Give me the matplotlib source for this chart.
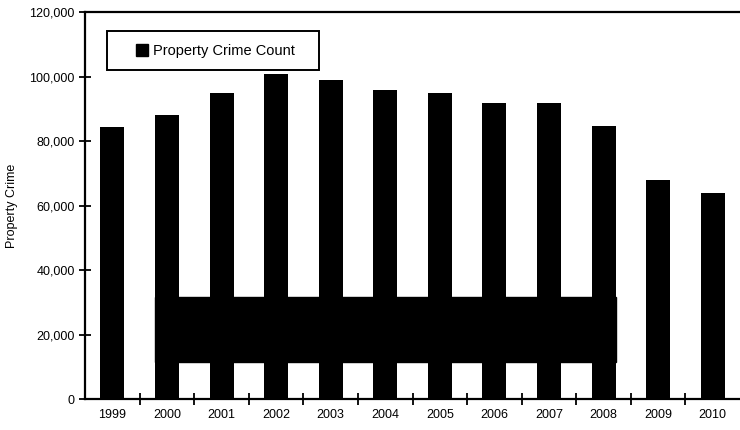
import matplotlib
matplotlib.use("Agg")
import matplotlib.pyplot as plt
from matplotlib.patches import Rectangle
from matplotlib.lines import Line2D
from matplotlib.ticker import FuncFormatter, FixedLocator

plt.rcParams["font.family"] = ["Liberation Sans", "DejaVu Sans"]

# data
years = ["1999", "2000", "2001", "2002", "2003", "2004",
         "2005", "2006", "2007", "2008", "2009", "2010"]
property_crime = [84500, 88000, 95000, 100900, 99000, 95800,
                  94900, 91800, 91800, 84700, 67900, 63900]

# redacted text box lying across the bars
box_years = ("2000", "2008")
box_range = (11600, 31500)

fig = plt.figure(figsize=(7.4, 4.3), dpi=100)
ax = fig.add_axes([0.115, 0.072, 0.885, 0.900])

x = list(range(len(years)))
bar_w = 0.44
ax.bar(x, property_crime, width=bar_w, color="black", zorder=2)

# black box over the middle of the chart
i0 = years.index(box_years[0])
i1 = years.index(box_years[1])
ax.add_patch(Rectangle((i0 - bar_w / 2, box_range[0]),
                       (i1 - i0) + bar_w, box_range[1] - box_range[0],
                       color="black", zorder=3))

ax.set_xlim(-0.5, len(years) - 0.5)
ax.set_ylim(0, 120000)
ax.set_yticks(range(0, 120001, 20000))
ax.yaxis.set_major_formatter(FuncFormatter(lambda v, p: f"{int(v):,}"))

# category labels centred, ticks on the boundaries
ax.set_xticks(x)
ax.set_xticklabels(years)
ax.tick_params(axis="x", length=0, pad=7, labelsize=9)
ax.xaxis.set_minor_locator(FixedLocator([i + 0.5 for i in x[:-1]]))
ax.tick_params(axis="x", which="minor", direction="inout", length=8, width=1.3)
ax.tick_params(axis="y", direction="inout", length=8, width=1.3, labelsize=9)

for s in ["left", "bottom", "top"]:
    ax.spines[s].set_linewidth(1.6)
ax.spines["right"].set_visible(False)

ax.set_ylabel("Property Crime", fontsize=9, labelpad=8)

# legend with a square marker, padded like the original box
handle = Line2D([], [], marker="s", color="black", linestyle="none", markersize=8)
leg = ax.legend([handle], ["Property Crime Count   "], loc="upper left",
                bbox_to_anchor=(0.033, 0.95), fontsize=10.5,
                frameon=True, fancybox=False, edgecolor="black", framealpha=1,
                handlelength=3.2, handletextpad=-0.9,
                borderpad=0.85, borderaxespad=0)
leg.get_frame().set_linewidth(1.4)

plt.savefig("out.png", dpi=100)
